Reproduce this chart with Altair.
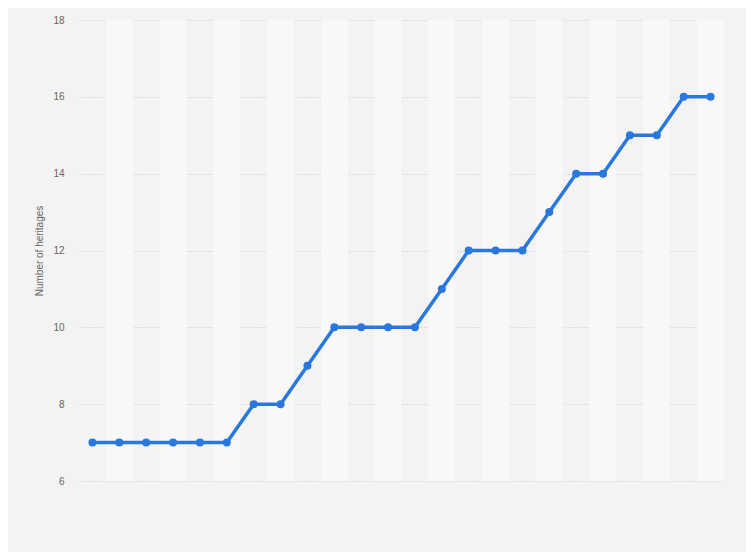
import altair as alt
import pandas as pd

categories = [str(i) for i in range(1, 25)]
values = [7, 7, 7, 7, 7, 7, 8, 8, 9, 10, 10, 10, 10, 11, 12, 12, 12, 13, 14, 14, 15, 15, 16, 16]
y_ticks = [6, 8, 10, 12, 14, 16, 18]

df = pd.DataFrame({"cat": categories, "value": values})
bands = pd.DataFrame({"cat": categories[1::2]})

W, H = 645, 461

xscale = alt.Scale(domain=categories, paddingInner=0, paddingOuter=0)
xenc = alt.X("cat:N", scale=xscale, axis=None, sort=categories)

band_layer = alt.Chart(bands).mark_rect(color="#f8f8f8").encode(
    x=xenc,
    y=alt.value(0),
    y2=alt.value(H),
)

yenc = alt.Y(
    "value:Q",
    scale=alt.Scale(domain=[6, 18], nice=False, zero=False),
    axis=alt.Axis(
        values=y_ticks,
        title="Number of heritages",
        titleFont="Liberation Sans",
        titleFontSize=10,
        titleFontWeight="normal",
        titleColor="#666666",
        titlePadding=8,
        labelFont="Liberation Sans",
        labelFontSize=10,
        labelColor="#666666",
        labelPadding=15,
        domain=False,
        ticks=False,
        grid=True,
        gridColor="#c8c8c8",
        gridDash=[1, 2],
        gridWidth=1,
    ),
)

line = alt.Chart(df).mark_line(color="#2a78de", strokeWidth=3.5).encode(x=xenc, y=yenc)
pts = alt.Chart(df).mark_circle(color="#2a78de", size=64, opacity=1).encode(x=xenc, y=yenc)

chart = (
    alt.layer(band_layer, line, pts)
    .properties(
        width=W,
        height=H,
        background="#f3f3f3",
        padding={"left": 71, "top": 12, "right": 22, "bottom": 71},
        autosize=alt.AutoSizeParams(type="none"),
    )
    .configure_view(stroke=None, fill="#f3f3f3")
)

chart.save("out.html", embed_options={"renderer": "svg", "actions": False})
